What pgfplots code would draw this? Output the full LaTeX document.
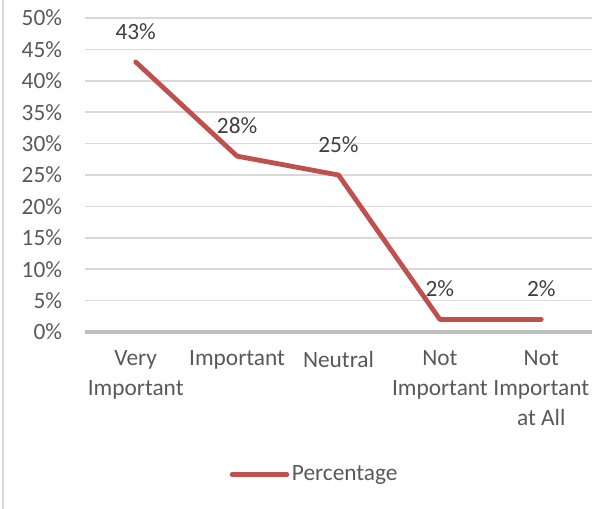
\documentclass[border=0pt]{standalone}
\usepackage{pgfplots}
\pgfplotsset{compat=1.18}
\usepackage{fontspec}
\setmainfont{Carlito}
\definecolor{linered}{HTML}{C0504D}
\definecolor{gridgray}{HTML}{D9D9D9}
\definecolor{axisgray}{HTML}{BFBFBF}
\definecolor{labelgray}{HTML}{595959}
\definecolor{datagray}{HTML}{404040}
\begin{document}
\fontsize{17.5}{22.5}\selectfont
\begin{tikzpicture}
% frame of the whole chart area (616 x 509 px, 1px = 0.75pt)
\path[use as bounding box] (-63.75pt,-132.75pt) rectangle (398.25pt,249pt);
\draw[gridgray, line width=1.2pt] (-61.5pt,-132.75pt) -- (-61.5pt,249pt);
\begin{axis}[
    scale only axis,
    width=380.25pt,
    height=235.5pt,
    xmin=-0.5, xmax=4.5,
    ymin=0, ymax=50,
    xtick={0,1,2,3,4},
    xticklabels={Very\\Important, Important, Neutral, Not\\Important, Not\\Important\\at All},
    ytick={0,5,...,50},
    yticklabel={\pgfmathprintnumber{\tick}\%},
    /pgf/number format/assume math mode=true,
    major tick length=0pt,
    axis line style={draw=none},
    ymajorgrids,
    grid style={gridgray, line width=1.2pt},
    tick label style={font=\fontsize{17.5}{22.5}\selectfont, text=labelgray},
    yticklabel style={anchor=east, inner sep=0pt, xshift=-17pt},
    xticklabel style={align=center, anchor=north, inner sep=0pt, yshift=-14pt},
    legend style={at={(0.4536,-0.455)}, anchor=center, draw=none, fill=none,
        font=\fontsize{17.5}{22.5}\selectfont, text=labelgray,
        inner sep=0pt, legend cell align=left},
    legend image code/.code={\draw[#1, line cap=round] (0pt,0pt) -- (41pt,0pt);},
    clip=false,
]
\draw[axisgray, line width=2.4pt] (axis cs:-0.5,0) -- (axis cs:4.5,0);
\addplot[linered, line width=3.6pt, line cap=round, line join=round,
    nodes near coords={\pgfmathprintnumber{\pgfplotspointmeta}\%},
    every node near coord/.append style={anchor=center, yshift=23pt,
        text=datagray, font=\fontsize{17.5}{22.5}\selectfont}]
coordinates {
    (0,43)
    (1,28)
    (2,25)
    (3,2)
    (4,2)
};
\addlegendentry{Percentage}
\end{axis}
\end{tikzpicture}
\end{document}
